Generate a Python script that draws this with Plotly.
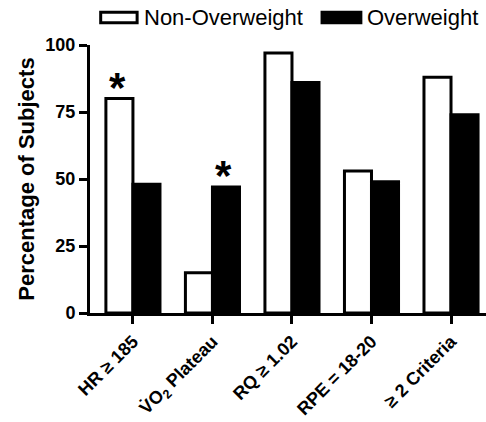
import plotly.graph_objects as go

categories = ["HR ≥ 185", "V̇O<sub>2</sub> Plateau", "RQ ≥ 1.02", "RPE = 18-20", "≥ 2 Criteria"]
non_overweight = [80, 15, 97, 53, 88]
overweight = [48, 47, 86, 49, 74]
y_ticks = [0, 25, 50, 75, 100]

FONT = "Liberation Sans, Arial, sans-serif"

fig = go.Figure()
fig.add_trace(go.Bar(x=categories, y=non_overweight, name="Non-Overweight",
                     marker=dict(color="white", line=dict(color="black", width=3))))
fig.add_trace(go.Bar(x=categories, y=overweight, name="Overweight",
                     marker=dict(color="black", line=dict(color="black", width=3))))

# significance asterisks
for cat, val, xs in [(categories[0], non_overweight[0], -15), (categories[1], overweight[1], 11)]:
    fig.add_annotation(x=cat, y=val, text="<b>*</b>", showarrow=False, xshift=xs,
                       yanchor="bottom", yshift=-14, font=dict(size=42, family=FONT, color="black"))

# legend keys
fig.add_shape(type="rect", xref="paper", yref="paper", x0=0.027, x1=0.119, y0=1.083, y1=1.122,
              line=dict(color="black", width=3), fillcolor="white")
fig.add_shape(type="rect", xref="paper", yref="paper", x0=0.586, x1=0.684, y0=1.083, y1=1.122,
              line=dict(color="black", width=3), fillcolor="black")
fig.add_annotation(xref="paper", yref="paper", x=0.132, y=1.103, text="Non-Overweight", showarrow=False,
                   xanchor="left", yanchor="middle", font=dict(size=22, family=FONT, color="black"))
fig.add_annotation(xref="paper", yref="paper", x=0.694, y=1.103, text="Overweight", showarrow=False,
                   xanchor="left", yanchor="middle", font=dict(size=22, family=FONT, color="black"))

fig.update_layout(
    width=486, height=422,
    margin=dict(l=90, r=0, t=45, b=109),
    plot_bgcolor="white", paper_bgcolor="white",
    barmode="group", bargap=0.32, bargroupgap=0,
    showlegend=False,
    font=dict(family=FONT, color="black"),
)
fig.update_xaxes(
    range=[-0.54, 4.44], showline=True, linecolor="black", linewidth=3,
    ticks="outside", ticklen=8, tickwidth=3, tickcolor="black",
    tickangle=-45, tickfont=dict(size=18, family=FONT, color="black"),
    tickprefix="<b>", ticksuffix="</b>", showgrid=False, zeroline=False,
    automargin=False,
)
fig.update_yaxes(
    range=[0, 100], tickvals=y_ticks, ticktext=[f"<b>{v}</b>" for v in y_ticks],
    showline=True, linecolor="black", linewidth=3,
    ticks="outside", ticklen=8, tickwidth=3, tickcolor="black",
    tickfont=dict(size=18, family=FONT, color="black"),
    title=dict(text="<b>Percentage of Subjects</b>", font=dict(size=22, family=FONT, color="black"), standoff=5),
    showgrid=False, zeroline=False, automargin=False,
)

post = (
    "document.documentElement.style.margin='0px';"
    "document.body.style.margin='0px';"
    "document.body.style.overflow='hidden';"
    "var gd=document.getElementById('{plot_id}');"
    "gd.style.position='fixed';gd.style.left='0px';gd.style.top='0px';"
)
fig.write_html("out.html", config={"displayModeBar": False}, post_script=post)
